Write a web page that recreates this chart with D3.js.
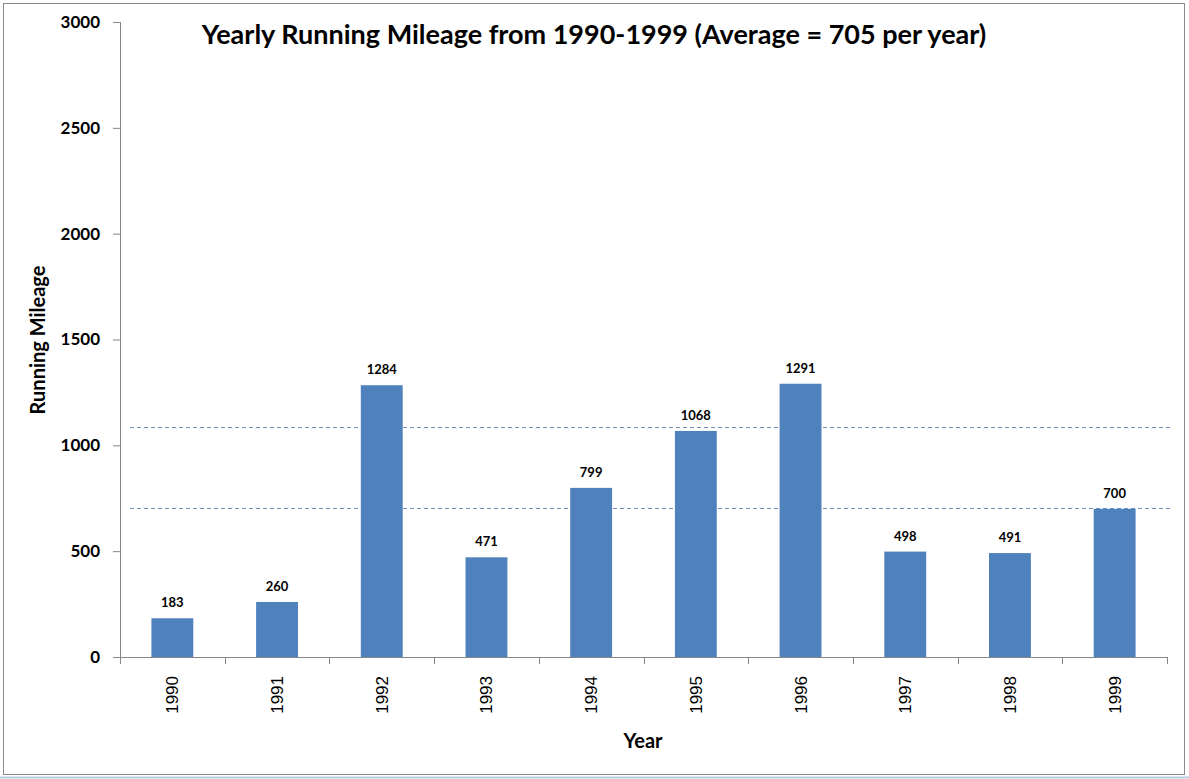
<!DOCTYPE html>
<html>
<head>
<meta charset="utf-8">
<script src="https://cdn.jsdelivr.net/npm/d3@7"></script>
<style>
  html, body { margin: 0; padding: 0; background: #fff; }
  svg { display: block; font-family: Lato, "Open Sans", sans-serif; }
</style>
</head>
<body>
<div id="chart"></div>
<script>
/* ── DATA ── */
const years   = ['1990','1991','1992','1993','1994','1995','1996','1997','1998','1999'];
const mileage = [183, 260, 1284, 471, 799, 1068, 1291, 498, 491, 700];
const yTicks  = [0, 500, 1000, 1500, 2000, 2500, 3000];
const refLines = [705, 1085];

const W = 1189, H = 779;
const margin = { top: 22, right: 22, bottom: 122, left: 120 };
const iW = W - margin.left - margin.right;
const iH = H - margin.top - margin.bottom;

const svg = d3.select('#chart').append('svg').attr('width', W).attr('height', H);

// frame
svg.append('rect').attr('x', 3.5).attr('y', 3.5).attr('width', 1181).attr('height', 771)
  .attr('fill', '#fff').attr('stroke', '#8c8c8c').attr('stroke-width', 1);
svg.append('line').attr('x1', 0).attr('x2', W).attr('y1', 777.5).attr('y2', 777.5)
  .attr('stroke', '#b9cde5').attr('stroke-width', 2);

const x = d3.scaleBand().domain(years).range([0, iW]).paddingInner(0.6).paddingOuter(0.3);
const y = d3.scaleLinear().domain([0, 3000]).range([iH, 0]);

const g = svg.append('g').attr('transform', `translate(${margin.left},${margin.top})`);

// reference lines
g.selectAll('.ref').data(refLines).enter().append('line')
  .attr('x1', 10).attr('x2', iW + 3)
  .attr('y1', d => Math.round(y(d)) + 0.5).attr('y2', d => Math.round(y(d)) + 0.5)
  .attr('stroke', '#7090bb').attr('stroke-width', 1).attr('stroke-dasharray', '4,3');

// bars
g.selectAll('.bar').data(mileage).enter().append('rect')
  .attr('x', (d, i) => x(years[i])).attr('width', x.bandwidth())
  .attr('y', d => y(d)).attr('height', d => iH - y(d))
  .attr('fill', '#4f81bd');

// bar labels
g.selectAll('.lbl').data(mileage).enter().append('text')
  .attr('x', (d, i) => x(years[i]) + x.bandwidth() / 2)
  .attr('y', d => y(d) - 11)
  .attr('text-anchor', 'middle').attr('font-size', 13).attr('font-weight', 700)
  .attr('fill', '#000').text(d => d);

// y axis
const yAxis = g.append('g')
  .call(d3.axisLeft(y).tickValues(yTicks).tickSize(7).tickPadding(13).tickFormat(d3.format('d')));
yAxis.select('.domain').attr('stroke', '#868686').attr('d', `M0.5,0V${iH}`);
yAxis.selectAll('.tick line').attr('stroke', '#868686');
yAxis.selectAll('text').attr('font-size', 17).attr('font-weight', 700).attr('fill', '#000')
  .attr('font-family', 'Lato, sans-serif');

// x axis with ticks at band boundaries
const xAxis = g.append('g').attr('transform', `translate(0,${iH})`);
xAxis.append('line').attr('x1', -7).attr('x2', iW).attr('y1', 0.5).attr('y2', 0.5).attr('stroke', '#868686');
const bounds = d3.range(years.length + 1).map(i => i * iW / years.length);
xAxis.selectAll('.xt').data(bounds).enter().append('line')
  .attr('x1', d => Math.round(d) + 0.5).attr('x2', d => Math.round(d) + 0.5)
  .attr('y1', 0).attr('y2', 7).attr('stroke', '#868686');
xAxis.selectAll('.xl').data(years).enter().append('text')
  .attr('transform', d => `translate(${x(d) + x.bandwidth() / 2},19) rotate(-90)`)
  .attr('dy', '0.35em').attr('text-anchor', 'end')
  .attr('font-family', '"Liberation Sans", Arial, sans-serif').attr('font-size', 17)
  .attr('fill', '#000').text(d => d);

// titles
svg.append('text').attr('x', 594).attr('y', 44).attr('text-anchor', 'middle')
  .attr('font-size', 27).attr('font-weight', 700).attr('fill', '#000')
  .text('Yearly Running Mileage from 1990-1999 (Average = 705 per year)');
svg.append('text').attr('x', 643).attr('y', 748).attr('text-anchor', 'middle')
  .attr('font-size', 20).attr('font-weight', 700).attr('fill', '#000').text('Year');
svg.append('text').attr('transform', 'translate(45,340) rotate(-90)').attr('text-anchor', 'middle')
  .attr('font-size', 20).attr('font-weight', 700).attr('fill', '#000').text('Running Mileage');
</script>
</body>
</html>
